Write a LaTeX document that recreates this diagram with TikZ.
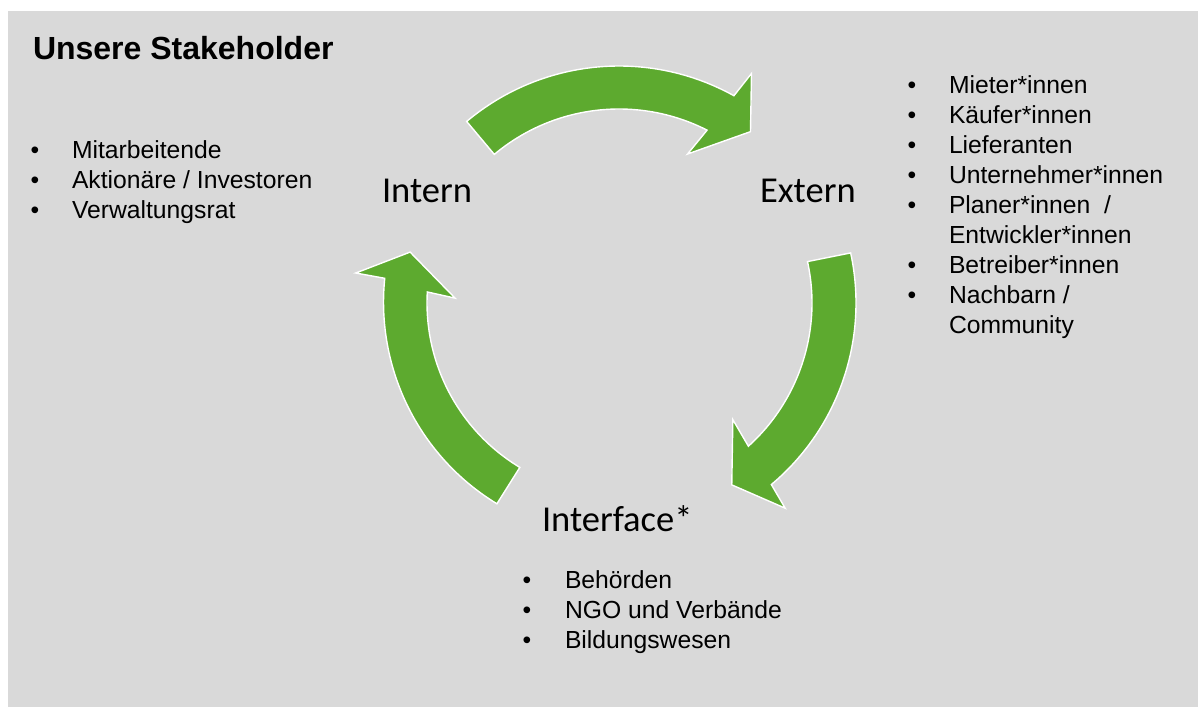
\documentclass[tikz,border=0pt]{standalone}
\usepackage{fontspec}
\setmainfont{Liberation Sans}
\newfontfamily\labelfont{Carlito}
\definecolor{bggray}{HTML}{D9D9D9}
\definecolor{arrowgreen}{HTML}{5DAA2F}
\begin{document}
\begin{tikzpicture}[x=1pt,y=1pt,
  every node/.style={inner sep=0pt, outer sep=0pt},
  item/.style={anchor=base west, font=\fontsize{24.7}{29.9}\selectfont},
  bul/.style={anchor=base, font=\fontsize{24.7}{29.9}\selectfont},
  lab/.style={anchor=base west, font=\labelfont\fontsize{36.5}{40}\selectfont},
  cyc/.style={fill=arrowgreen, draw=white, line width=1.4pt, line join=miter}]
\useasboundingbox (0,0) rectangle (1198,-707);
\fill[bggray] (8,-11) rectangle (1198,-707);

\node[anchor=base west, font=\bfseries\fontsize{32}{38}\selectfont] (title) at (33,-59) {Unsere Stakeholder};

% cycle arrows
\begin{scope}[shift={(619,-303)}]
  % top arrow: Intern -> Extern
  \path[cyc] (130:237) arc[start angle=130, end angle=61, radius=237]
    -- (60:265) -- (52.5:216) -- (65.3:164) -- (63:194)
    arc[start angle=63, end angle=130, radius=194] -- cycle;
  % right arrow: Extern -> Interface
  \path[cyc] (12.2:237) arc[start angle=12.2, end angle=-50, radius=237]
    -- (-51:264) -- (-58.2:214) -- (-45.7:163) -- (-47.9:193)
    arc[start angle=-47.9, end angle=12.4, radius=193] -- cycle;
  % left arrow: Interface -> Intern
  \path[cyc] (238.7:235) arc[start angle=238.7, end angle=174.2, radius=236]
    -- (173.5:265) -- (166.3:215) -- (178.3:164) -- (176.7:192)
    arc[start angle=176.7, end angle=238.9, radius=192] -- cycle;
\end{scope}

% labels
\node[lab] (intern) at (382,-202) {Intern};
\node[lab] (extern) at (760,-202) {Extern};
\node[lab] (interface) at (542,-531) {Interface*};

% left list
\node[bul] (lb1) at (35,-158) {•};
\node[item] (l1) at (72,-158) {Mitarbeitende};
\node[bul] (lb2) at (35,-188) {•};
\node[item] (l2) at (72,-188) {Aktionäre / Investoren};
\node[bul] (lb3) at (35,-218) {•};
\node[item] (l3) at (72,-218) {Verwaltungsrat};

% right list
\node[bul] (rb1) at (912,-93) {•};
\node[item] (r1) at (949,-93) {Mieter*innen};
\node[bul] (rb2) at (912,-123) {•};
\node[item] (r2) at (949,-123) {Käufer*innen};
\node[bul] (rb3) at (912,-153) {•};
\node[item] (r3) at (949,-153) {Lieferanten};
\node[bul] (rb4) at (912,-183) {•};
\node[item] (r4) at (949,-183) {Unternehmer*innen};
\node[bul] (rb5) at (912,-213) {•};
\node[item] (r5) at (949,-213) {Planer*innen\hspace{0.28em} /};
\node[item] (r6) at (949,-243) {Entwickler*innen};
\node[bul] (rb7) at (912,-273) {•};
\node[item] (r7) at (949,-273) {Betreiber*innen};
\node[bul] (rb8) at (912,-303) {•};
\node[item] (r8) at (949,-303) {Nachbarn /};
\node[item] (r9) at (949,-333) {Community};

% bottom list
\node[bul] (bb1) at (527,-588) {•};
\node[item] (b1) at (565,-588) {Behörden};
\node[bul] (bb2) at (527,-618) {•};
\node[item] (b2) at (565,-618) {NGO und Verbände};
\node[bul] (bb3) at (527,-648) {•};
\node[item] (b3) at (565,-648) {Bildungswesen};
\end{tikzpicture}
\end{document}
